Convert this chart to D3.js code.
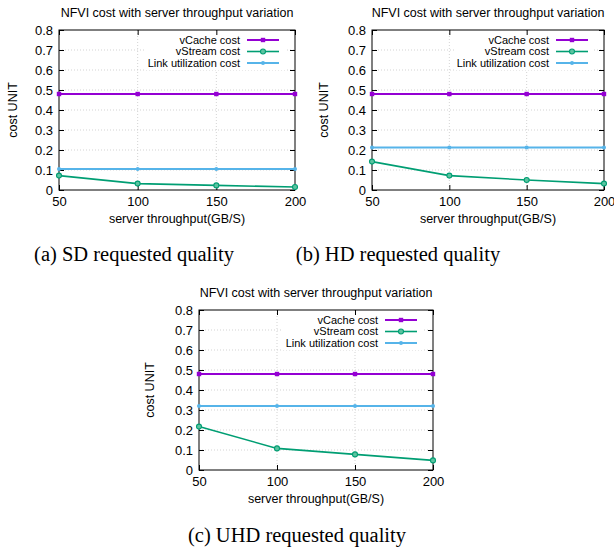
<!DOCTYPE html>
<html>
<head>
<meta charset="utf-8">
<script src="https://cdn.jsdelivr.net/npm/d3@7"></script>
<style>
body { margin: 0; background: #fff; }
svg { display: block; }
.tick text { font-family: "Liberation Sans", Arial, sans-serif; font-size: 13px; fill: #000; }
</style>
</head>
<body>
<svg id="chart" width="614" height="553"></svg>
<script>

// values
var throughput = [50, 100, 150, 200]
var xTicks = [50, 100, 150, 200]
var yTicks = [0, 0.1, 0.2, 0.3, 0.4, 0.5, 0.6, 0.7, 0.8]
var seriesNames = ['vCache cost', 'vStream cost', 'Link utilization cost']

var vcacheSD = [0.48, 0.48, 0.48, 0.48]
var vstreamSD = [0.072, 0.032, 0.023, 0.015]
var linkSD = [0.105, 0.105, 0.105, 0.105]

var vcacheHD = [0.48, 0.48, 0.48, 0.48]
var vstreamHD = [0.142, 0.072, 0.05, 0.032]
var linkHD = [0.213, 0.213, 0.213, 0.213]

var vcacheUHD = [0.48, 0.48, 0.48, 0.48]
var vstreamUHD = [0.217, 0.108, 0.078, 0.048]
var linkUHD = [0.32, 0.32, 0.32, 0.32]

var captions = ['(a) SD requested quality', '(b) HD requested quality', '(c) UHD requested quality']
var chartTitle = 'NFVI cost with server throughput variation'

var colors = ['#9400d3', '#009e73', '#56b4e9']

var svg = d3.select('#chart')

function draw_panel(box, series) {
	var width = box.right - box.left
	var height = box.bottom - box.top

	var g = svg.append('g')
		.attr('transform', 'translate(' + box.left + ',' + box.top + ')')

	var xs = d3.scaleLinear().domain([50, 200]).range([0, width])
	var ys = d3.scaleLinear().domain([0, 0.8]).range([height, 0])

	// dotted grid
	g.append('g').selectAll('line').data(yTicks.slice(1, -1)).enter()
		.append('line')
		.attr('x1', 0).attr('x2', width)
		.attr('y1', function(d) {return ys(d)}).attr('y2', function(d) {return ys(d)})
		.attr('stroke', '#c8c8c8').attr('stroke-width', 0.8).attr('stroke-dasharray', '1,2')
	g.append('g').selectAll('line').data(xTicks.slice(1, -1)).enter()
		.append('line')
		.attr('y1', 0).attr('y2', height)
		.attr('x1', function(d) {return xs(d)}).attr('x2', function(d) {return xs(d)})
		.attr('stroke', '#c8c8c8').attr('stroke-width', 0.8).attr('stroke-dasharray', '1,2')

	// legend background (opaque key)
	g.append('rect')
		.attr('x', width - 150).attr('y', 3)
		.attr('width', 140).attr('height', 37)
		.attr('fill', '#fff')

	// axes with inward ticks, mirrored
	var yfmt = function(d) {return d === 0 ? '0' : d3.format('.1f')(d)}
	g.append('g')
		.call(d3.axisLeft(ys).tickValues(yTicks).tickFormat(yfmt).tickSize(-5).tickPadding(6))
		.call(function(a) {a.select('.domain').remove()})
	g.append('g')
		.attr('transform', 'translate(' + width + ',0)')
		.call(d3.axisRight(ys).tickValues(yTicks).tickFormat('').tickSize(-5))
		.call(function(a) {a.select('.domain').remove()})
	g.append('g')
		.attr('transform', 'translate(0,' + height + ')')
		.call(d3.axisBottom(xs).tickValues(xTicks).tickFormat(d3.format('d')).tickSize(-5).tickPadding(7))
		.call(function(a) {a.select('.domain').remove()})
	g.append('g')
		.call(d3.axisTop(xs).tickValues(xTicks).tickFormat('').tickSize(-5))
		.call(function(a) {a.select('.domain').remove()})
	g.selectAll('.tick line').attr('stroke', '#000')

	g.append('rect')
		.attr('width', width).attr('height', height)
		.attr('fill', 'none').attr('stroke', '#000').attr('stroke-width', 1)

	// series
	var line = d3.line()
		.x(function(d, i) {return xs(throughput[i])})
		.y(function(d) {return ys(d)})

	series.forEach(function(vals, k) {
		g.append('path')
			.datum(vals)
			.attr('d', line)
			.attr('fill', 'none')
			.attr('stroke', colors[k])
			.attr('stroke-width', k === 1 ? 1.6 : 2)
		draw_markers(g, vals.map(function(v, i) {return [xs(throughput[i]), ys(v)]}), k)
	})

	// legend
	seriesNames.forEach(function(name, k) {
		var yy = 10 + k * 11.5
		g.append('text')
			.attr('x', width - 55).attr('y', yy).attr('dy', '0.35em')
			.attr('text-anchor', 'end')
			.attr('font-family', '"Liberation Sans", Arial, sans-serif')
			.attr('font-size', 11)
			.text(name)
		g.append('line')
			.attr('x1', width - 48).attr('x2', width - 16)
			.attr('y1', yy).attr('y2', yy)
			.attr('stroke', colors[k]).attr('stroke-width', k === 1 ? 1.6 : 2)
		draw_markers(g, [[width - 32, yy]], k)
	})

	// titles
	g.append('text')
		.attr('x', width / 2).attr('y', -13)
		.attr('text-anchor', 'middle')
		.attr('font-family', '"Liberation Sans", Arial, sans-serif')
		.attr('font-size', 12.5)
		.text(chartTitle)
	g.append('text')
		.attr('x', width / 2).attr('y', height + 33)
		.attr('text-anchor', 'middle')
		.attr('font-family', '"Liberation Sans", Arial, sans-serif')
		.attr('font-size', 12.5)
		.text('server throughput(GB/S)')
	g.append('text')
		.attr('transform', 'translate(' + (box.ylab - box.left) + ',' + height / 2 + ') rotate(-90)')
		.attr('text-anchor', 'middle')
		.attr('dy', '0.35em')
		.attr('font-family', '"Liberation Sans", Arial, sans-serif')
		.attr('font-size', 12.5)
		.text('cost UNIT')
}

function draw_markers(g, pts, k) {
	if (k === 0) {
		g.selectAll(null).data(pts).enter().append('rect')
			.attr('x', function(p) {return p[0] - 2.2}).attr('y', function(p) {return p[1] - 2.2})
			.attr('width', 4.4).attr('height', 4.4)
			.attr('fill', colors[0])
	} else if (k === 1) {
		g.selectAll(null).data(pts).enter().append('circle')
			.attr('cx', function(p) {return p[0]}).attr('cy', function(p) {return p[1]})
			.attr('r', 2.5)
			.attr('fill', '#5cc3a0').attr('stroke', colors[1]).attr('stroke-width', 1.1)
	} else {
		g.selectAll(null).data(pts).enter().append('circle')
			.attr('cx', function(p) {return p[0]}).attr('cy', function(p) {return p[1]})
			.attr('r', 2)
			.attr('fill', colors[2])
	}
}

draw_panel({left: 59, right: 295, top: 30, bottom: 190, ylab: 13}, [vcacheSD, vstreamSD, linkSD])
draw_panel({left: 372, right: 604, top: 30, bottom: 190, ylab: 324}, [vcacheHD, vstreamHD, linkHD])
draw_panel({left: 199, right: 433, top: 310, bottom: 470, ylab: 150}, [vcacheUHD, vstreamUHD, linkUHD])

// subfigure captions
var capPos = [[134, 261], [398, 261], [297, 542]]
captions.forEach(function(c, i) {
	svg.append('text')
		.attr('x', capPos[i][0]).attr('y', capPos[i][1])
		.attr('text-anchor', 'middle')
		.attr('font-family', '"Liberation Serif", "Times New Roman", serif')
		.attr('font-size', 20.5)
		.text(c)
})
</script>
</body>
</html>
